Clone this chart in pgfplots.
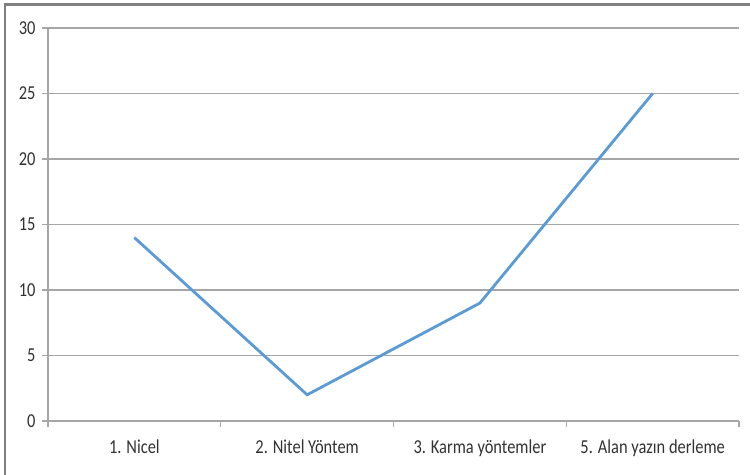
\documentclass[border=0pt]{standalone}
\usepackage{pgfplots}
\pgfplotsset{compat=1.18}
\usepackage{fontspec}
\setmainfont{Carlito}
\definecolor{lineblue}{RGB}{91,155,213}
\definecolor{gridgray}{RGB}{166,166,166}
\definecolor{framegray}{RGB}{128,128,128}
\definecolor{txt}{RGB}{50,50,50}
\newcommand{\st}[1]{\scalebox{1}[1.2]{#1}}
\begin{document}
\begin{tikzpicture}[x=1bp,y=1bp]
\useasboundingbox (0,0) rectangle (750,475);
\fill[white] (0,0) rectangle (750,475);
\draw[framegray, line width=2.5bp] (5,0) -- (5,470.5) -- (750,470.5);
\begin{axis}[
  at={(48bp,54bp)}, anchor=south west,
  scale only axis, width=691bp, height=393bp,
  xmin=-0.5, xmax=3.5, ymin=0, ymax=30,
  ytick={0,5,...,30},
  yticklabel={\st{\pgfmathprintnumber{\tick}}},
  xtick={0,1,2,3},
  xticklabels={\st{1. Nicel}, \st{2. Nitel Yöntem}, \st{3. Karma yöntemler}, \st{5. Alan yazın derleme}},
  minor xtick={-0.5,0.5,1.5,2.5,3.5},
  axis x line*=bottom, axis y line*=left,
  axis line style={gridgray, line width=1.5bp},
  tick align=outside,
  major tick length=6bp, minor tick length=6bp,
  major x tick style={draw=none},
  tick style={gridgray, line width=1.2bp},
  ymajorgrids,
  major grid style={gridgray, line width=1.5bp},
  /pgf/number format/assume math mode=true,
  tick label style={font=\fontsize{16.5}{19}\selectfont, text=txt},
  yticklabel style={xshift=-3bp},
  xticklabel style={yshift=-9bp},
  clip=false,
]
\addplot[color=lineblue, line width=2.8bp] coordinates {(0,14) (1,2) (2,9) (3,25)};
\end{axis}
\end{tikzpicture}
\end{document}
